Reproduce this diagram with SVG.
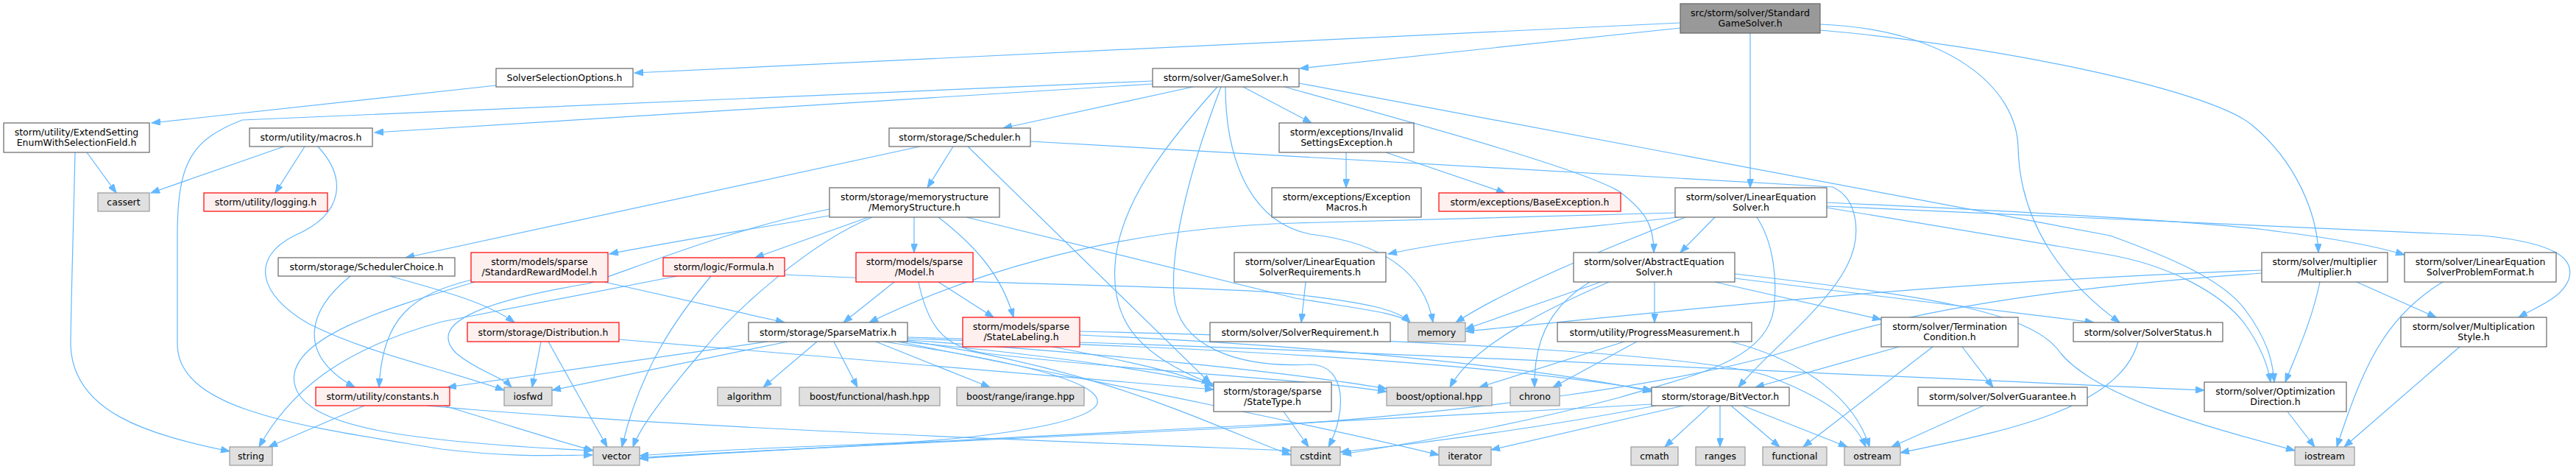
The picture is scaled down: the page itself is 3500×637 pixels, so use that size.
<svg xmlns="http://www.w3.org/2000/svg" width="3500" height="637" viewBox="0 0 3500 637">
<style>
.n rect{fill:#ffffff;stroke:#666666;stroke-width:1.2}
.g rect{fill:#e0e0e0;stroke:#999999;stroke-width:1.2}
.r rect{fill:#fff0f0;stroke:#ff0000;stroke-width:1.2}
.root rect{fill:#999999;stroke:#666666;stroke-width:1.2}
text{font-family:"DejaVu Sans","Liberation Sans",sans-serif;font-size:12.5px;text-anchor:middle;fill:#000000}
#edges path{fill:none;stroke:#63b8ff;stroke-width:1.2;marker-end:url(#arr)}
</style>
<defs>
<marker id="arr" markerWidth="13" markerHeight="9" refX="12" refY="4.5" orient="auto" markerUnits="userSpaceOnUse">
<path d="M0,0 L12,4.5 L0,9 z" fill="#63b8ff" stroke="#63b8ff" stroke-width="1"/>
</marker>
</defs>
<rect width="3500" height="637" fill="#ffffff"/>
<g id="edges">
<path d="M2283,31 L862,99"/>
<path d="M2283,38 L1766,93"/>
<path d="M2378,45 L2378,255"/>
<path d="M2473,33 C2650,40 2740,120 2742,200 C2744,300 2800,380 2880,438"/>
<path d="M2473,41 C2700,60 3000,120 3060,170 C3120,220 3148,290 3150,343"/>
<path d="M674,116 L206,167"/>
<path d="M118,207 L158,262"/>
<path d="M102,207 C100,300 96,430 96,470 C100,560 200,590 312,613"/>
<path d="M1566,114 L509,180"/>
<path d="M1566,110 L329,163 C260,190 241,220 241,320 L241,467 C241,560 420,580 600,610 C700,622 760,618 805,618"/>
<path d="M1621,118 L1363,174"/>
<path d="M1689,118 L1782,167"/>
<path d="M1745,118 C1950,175 2150,230 2200,260 C2240,290 2247,310 2247,343"/>
<path d="M1765,113 L2867,320 C2950,350 3020,380 3050,420 C3080,460 3088,490 3090,519"/>
<path d="M1654,118 C1580,200 1520,280 1515,360 C1510,430 1540,480 1645,521"/>
<path d="M1665,118 C1665,200 1690,300 1780,318 C1880,330 1935,370 1947,438"/>
<path d="M1659,118 C1620,220 1590,330 1595,400 C1600,470 1680,500 1780,495 C1830,495 1830,560 1805,607"/>
<path d="M386,199 L205,262"/>
<path d="M414,199 L374,262"/>
<path d="M432,199 C470,240 470,290 400,320 C340,350 350,400 420,440 C500,480 600,500 685,530"/>
<path d="M1250,199 L551,350"/>
<path d="M1295,199 L1260,255"/>
<path d="M1315,199 L1645,521"/>
<path d="M1400,192 L2490,254 C2525,270 2530,320 2510,360 C2480,420 2400,480 2362,526"/>
<path d="M1829,207 L1829,255"/>
<path d="M1883,207 L2045,262"/>
<path d="M1127,293 C1000,315 900,330 828,345"/>
<path d="M1180,295 L1026,350"/>
<path d="M1242,295 L1242,343"/>
<path d="M1275,295 C1320,330 1360,370 1377,431"/>
<path d="M1313,295 L1760,405 C1850,420 1900,425 1916,438"/>
<path d="M1127,284 C1000,310 900,350 800,385 C650,410 580,440 620,480 C650,505 680,510 695,526"/>
<path d="M1185,295 C1100,330 1000,420 960,470 C900,540 870,580 860,607"/>
<path d="M2280,295 C2150,310 2000,320 1886,345"/>
<path d="M2330,295 L2283,343"/>
<path d="M2290,295 C2200,330 2050,390 1978,438"/>
<path d="M2276,289 L1760,303 C1500,310 1300,380 1181,438"/>
<path d="M2482,275 C2700,285 3000,300 3100,315 C3180,325 3230,335 3267,346"/>
<path d="M2482,280 L3374,320 C3470,330 3500,350 3490,380 C3480,405 3450,415 3422,431"/>
<path d="M2482,282 L2860,345 C2950,360 3020,400 3050,440 C3075,475 3082,500 3085,519"/>
<path d="M2387,295 C2410,330 2415,380 2410,420 C2400,490 2300,510 2200,540 C2050,580 1900,605 1824,617"/>
<path d="M530,375 C600,395 660,410 699,438"/>
<path d="M476,375 C420,420 400,480 482,526"/>
<path d="M821,383 L1066,438"/>
<path d="M641,380 C560,400 520,430 515,526"/>
<path d="M645,383 C520,420 390,460 400,520 C410,580 550,600 805,612"/>
<path d="M966,375 C920,430 870,500 845,607"/>
<path d="M1066,373 C1300,385 1700,390 1760,400 C1850,410 1900,420 1916,438"/>
<path d="M920,375 L600,437 C480,470 400,520 352,607"/>
<path d="M1215,383 L1146,438"/>
<path d="M1275,383 L1350,431"/>
<path d="M1248,383 C1260,440 1280,472 1340,480 C1550,505 1780,515 1884,532"/>
<path d="M745,464 L825,607"/>
<path d="M735,464 L723,526"/>
<path d="M841,461 L1649,529"/>
<path d="M1043,464 L608,526"/>
<path d="M1070,464 L750,530"/>
<path d="M1110,464 L1037,526"/>
<path d="M1133,464 L1165,526"/>
<path d="M1190,464 L1345,526"/>
<path d="M1225,464 C1400,480 1550,500 1649,522"/>
<path d="M1233,462 C1500,480 1750,505 1884,528"/>
<path d="M1233,460 C1600,470 2000,490 2244,530"/>
<path d="M1200,464 C1450,500 1500,530 1490,550 C1470,580 1300,600 1160,604 C1000,610 920,615 869,619"/>
<path d="M1233,463 C1500,500 1650,580 1754,618"/>
<path d="M1220,464 C1500,520 1800,580 1955,618"/>
<path d="M1233,458 C1700,470 2200,495 2995,530"/>
<path d="M1467,455 C1800,470 2100,500 2244,532"/>
<path d="M1430,471 C1530,490 1600,505 1649,525"/>
<path d="M1467,450 C1900,460 2300,480 2400,510 C2480,540 2520,570 2535,607"/>
<path d="M1774,383 L1768,438"/>
<path d="M2175,383 L1991,447"/>
<path d="M2186,383 C2100,420 2000,470 1970,526"/>
<path d="M2160,383 C2100,420 2084,470 2085,526"/>
<path d="M2248,383 L2248,438"/>
<path d="M2330,383 L2556,434"/>
<path d="M2357,378 L2845,438"/>
<path d="M2357,372 C2600,400 2760,420 2800,480 C2850,540 3000,580 3118,612"/>
<path d="M2224,464 L2110,526"/>
<path d="M2207,464 L2010,526"/>
<path d="M2352,464 C2450,490 2520,540 2540,607"/>
<path d="M2580,471 L2385,526"/>
<path d="M2626,471 L2450,607"/>
<path d="M2666,471 L2708,526"/>
<path d="M2905,464 C2880,560 2700,590 2582,615"/>
<path d="M2695,551 L2570,607"/>
<path d="M3152,383 C3140,440 3120,480 3105,519"/>
<path d="M3202,383 L3310,431"/>
<path d="M3073,367 C2600,385 2300,420 1991,450"/>
<path d="M3073,371 C2800,390 2600,420 2450,470 C2300,520 2000,560 1700,580 C1300,600 1000,612 869,622"/>
<path d="M3319,383 C3240,430 3210,500 3175,607"/>
<path d="M3342,471 L3185,607"/>
<path d="M3108,559 L3145,607"/>
<path d="M2250,551 C2100,580 1950,600 1821,614"/>
<path d="M2287,551 L2026,611"/>
<path d="M2323,551 L2262,607"/>
<path d="M2337,551 L2337,607"/>
<path d="M2352,551 L2418,607"/>
<path d="M2368,551 L2510,607"/>
<path d="M2244,549 C1800,575 1200,600 869,623"/>
<path d="M1744,559 L1778,607"/>
<path d="M495,551 L365,607"/>
<path d="M603,551 C700,580 760,600 806,612"/>
<path d="M580,551 C900,580 1400,598 1754,612"/>
</g>
<g id="n_root" class="root"><rect x="2283" y="5" width="190" height="40"/><text x="2378" y="21.5">src/storm/solver/Standard</text><text x="2378" y="35.5">GameSolver.h</text></g>
<g id="n_sso" class="n"><rect x="674" y="93" width="186" height="25"/><text x="767" y="110">SolverSelectionOptions.h</text></g>
<g id="n_game" class="n"><rect x="1566" y="93" width="199" height="25"/><text x="1665.5" y="110">storm/solver/GameSolver.h</text></g>
<g id="n_ext" class="n"><rect x="5" y="167" width="198" height="40"/><text x="104" y="183.5">storm/utility/ExtendSetting</text><text x="104" y="197.5">EnumWithSelectionField.h</text></g>
<g id="n_macros" class="n"><rect x="339" y="174" width="167" height="25"/><text x="422.5" y="191">storm/utility/macros.h</text></g>
<g id="n_sched" class="n"><rect x="1208" y="174" width="192" height="25"/><text x="1304" y="191">storm/storage/Scheduler.h</text></g>
<g id="n_invalid" class="n"><rect x="1738" y="167" width="183" height="40"/><text x="1829.5" y="183.5">storm/exceptions/Invalid</text><text x="1829.5" y="197.5">SettingsException.h</text></g>
<g id="n_cassert" class="g"><rect x="133" y="262" width="70" height="25"/><text x="168" y="279">cassert</text></g>
<g id="n_logging" class="r"><rect x="277" y="262" width="168" height="25"/><text x="361" y="279">storm/utility/logging.h</text></g>
<g id="n_mem" class="n"><rect x="1127" y="255" width="231" height="40"/><text x="1242.5" y="271.5">storm/storage/memorystructure</text><text x="1242.5" y="285.5">/MemoryStructure.h</text></g>
<g id="n_excmac" class="n"><rect x="1728" y="255" width="203" height="40"/><text x="1829.5" y="271.5">storm/exceptions/Exception</text><text x="1829.5" y="285.5">Macros.h</text></g>
<g id="n_base" class="r"><rect x="1955" y="262" width="247" height="25"/><text x="2078.5" y="279">storm/exceptions/BaseException.h</text></g>
<g id="n_les" class="n"><rect x="2276" y="255" width="206" height="40"/><text x="2379" y="271.5">storm/solver/LinearEquation</text><text x="2379" y="285.5">Solver.h</text></g>
<g id="n_schoice" class="n"><rect x="378" y="350" width="240" height="25"/><text x="498" y="367">storm/storage/SchedulerChoice.h</text></g>
<g id="n_srm" class="r"><rect x="640" y="343" width="186" height="40"/><text x="733" y="359.5">storm/models/sparse</text><text x="733" y="373.5">/StandardRewardModel.h</text></g>
<g id="n_formula" class="r"><rect x="901" y="350" width="165" height="25"/><text x="983.5" y="367">storm/logic/Formula.h</text></g>
<g id="n_model" class="r"><rect x="1163" y="343" width="159" height="40"/><text x="1242.5" y="359.5">storm/models/sparse</text><text x="1242.5" y="373.5">/Model.h</text></g>
<g id="n_lesreq" class="n"><rect x="1677" y="343" width="206" height="40"/><text x="1780" y="359.5">storm/solver/LinearEquation</text><text x="1780" y="373.5">SolverRequirements.h</text></g>
<g id="n_abs" class="n"><rect x="2138" y="343" width="219" height="40"/><text x="2247.5" y="359.5">storm/solver/AbstractEquation</text><text x="2247.5" y="373.5">Solver.h</text></g>
<g id="n_mult" class="n"><rect x="3073" y="343" width="171" height="40"/><text x="3158.5" y="359.5">storm/solver/multiplier</text><text x="3158.5" y="373.5">/Multiplier.h</text></g>
<g id="n_lespf" class="n"><rect x="3267" y="343" width="206" height="40"/><text x="3370" y="359.5">storm/solver/LinearEquation</text><text x="3370" y="373.5">SolverProblemFormat.h</text></g>
<g id="n_dist" class="r"><rect x="635" y="438" width="206" height="26"/><text x="738" y="455.5">storm/storage/Distribution.h</text></g>
<g id="n_sparse" class="n"><rect x="1017" y="438" width="216" height="26"/><text x="1125" y="455.5">storm/storage/SparseMatrix.h</text></g>
<g id="n_label" class="r"><rect x="1308" y="431" width="159" height="40"/><text x="1387.5" y="447.5">storm/models/sparse</text><text x="1387.5" y="461.5">/StateLabeling.h</text></g>
<g id="n_sreq" class="n"><rect x="1644" y="438" width="245" height="26"/><text x="1766.5" y="455.5">storm/solver/SolverRequirement.h</text></g>
<g id="n_memory" class="g"><rect x="1913" y="438" width="78" height="26"/><text x="1952" y="455.5">memory</text></g>
<g id="n_progress" class="n"><rect x="2116" y="438" width="264" height="26"/><text x="2248" y="455.5">storm/utility/ProgressMeasurement.h</text></g>
<g id="n_term" class="n"><rect x="2556" y="431" width="186" height="40"/><text x="2649" y="447.5">storm/solver/Termination</text><text x="2649" y="461.5">Condition.h</text></g>
<g id="n_status" class="n"><rect x="2817" y="438" width="203" height="26"/><text x="2918.5" y="455.5">storm/solver/SolverStatus.h</text></g>
<g id="n_mstyle" class="n"><rect x="3262" y="431" width="198" height="40"/><text x="3361" y="447.5">storm/solver/Multiplication</text><text x="3361" y="461.5">Style.h</text></g>
<g id="n_const" class="r"><rect x="429" y="526" width="182" height="25"/><text x="520" y="543">storm/utility/constants.h</text></g>
<g id="n_iosfwd" class="g"><rect x="685" y="526" width="65" height="25"/><text x="717.5" y="543">iosfwd</text></g>
<g id="n_algo" class="g"><rect x="975" y="526" width="86" height="25"/><text x="1018" y="543">algorithm</text></g>
<g id="n_hash" class="g"><rect x="1086" y="526" width="191" height="25"/><text x="1181.5" y="543">boost/functional/hash.hpp</text></g>
<g id="n_irange" class="g"><rect x="1300" y="526" width="173" height="25"/><text x="1386.5" y="543">boost/range/irange.hpp</text></g>
<g id="n_stype" class="n"><rect x="1649" y="519" width="160" height="40"/><text x="1729" y="535.5">storm/storage/sparse</text><text x="1729" y="549.5">/StateType.h</text></g>
<g id="n_opt" class="g"><rect x="1884" y="526" width="143" height="25"/><text x="1955.5" y="543">boost/optional.hpp</text></g>
<g id="n_chrono" class="g"><rect x="2052" y="526" width="67" height="25"/><text x="2085.5" y="543">chrono</text></g>
<g id="n_bitvec" class="n"><rect x="2244" y="526" width="187" height="25"/><text x="2337.5" y="543">storm/storage/BitVector.h</text></g>
<g id="n_guar" class="n"><rect x="2606" y="526" width="230" height="25"/><text x="2721" y="543">storm/solver/SolverGuarantee.h</text></g>
<g id="n_optdir" class="n"><rect x="2995" y="519" width="193" height="40"/><text x="3091.5" y="535.5">storm/solver/Optimization</text><text x="3091.5" y="549.5">Direction.h</text></g>
<g id="n_string" class="g"><rect x="312" y="607" width="58" height="25"/><text x="341" y="624">string</text></g>
<g id="n_vector" class="g"><rect x="806" y="607" width="63" height="25"/><text x="837.5" y="624">vector</text></g>
<g id="n_cstdint" class="g"><rect x="1754" y="607" width="67" height="25"/><text x="1787.5" y="624">cstdint</text></g>
<g id="n_iterator" class="g"><rect x="1955" y="607" width="71" height="25"/><text x="1990.5" y="624">iterator</text></g>
<g id="n_cmath" class="g"><rect x="2216" y="607" width="64" height="25"/><text x="2248" y="624">cmath</text></g>
<g id="n_ranges" class="g"><rect x="2304" y="607" width="67" height="25"/><text x="2337.5" y="624">ranges</text></g>
<g id="n_functional" class="g"><rect x="2395" y="607" width="87" height="25"/><text x="2438.5" y="624">functional</text></g>
<g id="n_ostream" class="g"><rect x="2506" y="607" width="76" height="25"/><text x="2544" y="624">ostream</text></g>
<g id="n_iostream" class="g"><rect x="3118" y="607" width="81" height="25"/><text x="3158.5" y="624">iostream</text></g>
</svg>
